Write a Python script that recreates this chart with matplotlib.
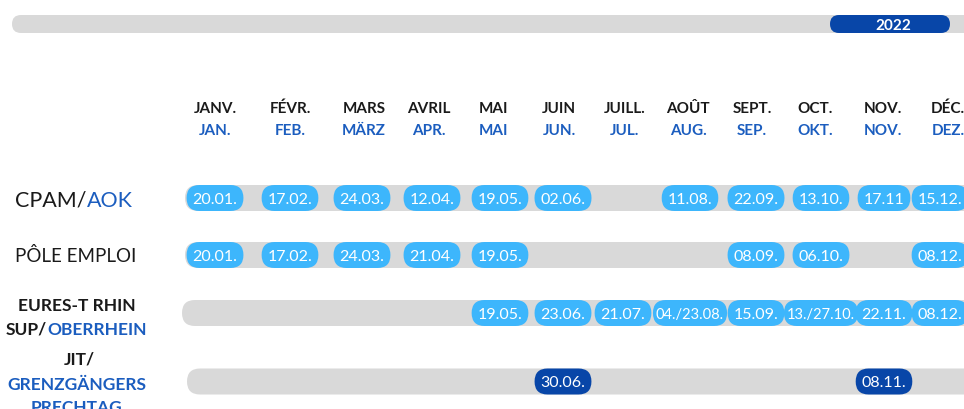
import matplotlib.pyplot as plt
from matplotlib.patches import FancyBboxPatch

plt.rcParams['font.family'] = ['Lato', 'DejaVu Sans']

# data
year = '2022'
months_fr = ['JANV.', 'FÉVR.', 'MARS', 'AVRIL', 'MAI', 'JUIN', 'JUILL.',
             'AOÛT', 'SEPT.', 'OCT.', 'NOV.', 'DÉC.']
months_de = ['JAN.', 'FEB.', 'MÄRZ', 'APR.', 'MAI', 'JUN.', 'JUL.',
             'AUG.', 'SEP.', 'OKT.', 'NOV.', 'DEZ.']

cpam_months = [0, 1, 2, 3, 4, 5, 7, 8, 9, 10, 11]
cpam_dates = ['20.01.', '17.02.', '24.03.', '12.04.', '19.05.', '02.06.',
              '11.08.', '22.09.', '13.10.', '17.11', '15.12.']
pole_months = [0, 1, 2, 3, 4, 8, 9, 11]
pole_dates = ['20.01.', '17.02.', '24.03.', '21.04.', '19.05.', '08.09.',
              '06.10.', '08.12.']
eures_months = [4, 5, 6, 7, 8, 9, 10, 11]
eures_dates = ['19.05.', '23.06.', '21.07.', '04./23.08.', '15.09.',
               '13./27.10.', '22.11.', '08.12.']
jit_months = [5, 10]
jit_dates = ['30.06.', '08.11.']

# layout (pixel coordinates of a 964x410 canvas)
W, H = 964, 410
head_x = [215, 290, 364, 429, 493, 559, 625, 688, 752, 815, 883, 948]
pill_x = [215, 290, 362, 432, 500, 563, 623, 690, 756, 821, 884, 940]

BLACK = '#1a1a1a'
BLUE = '#1b5dbf'
GREY = '#d9d9d9'
LIGHT = '#3db6fc'
DARK = '#0846a8'

fig = plt.figure(figsize=(W / 100, H / 100), dpi=100)
ax = fig.add_axes([0, 0, 1, 1])
ax.set_xlim(0, W)
ax.set_ylim(H, 0)
ax.axis('off')
renderer = fig.canvas.get_renderer()


def rbox(x0, y0, w, h, color, z=1):
    ax.add_patch(FancyBboxPatch((x0, y0), w, h,
                                boxstyle=f'round,pad=0,rounding_size={h / 2}',
                                fc=color, ec='none', zorder=z))


def pill(xc, yc, label, color, h=26):
    # long double dates are squeezed a bit, like in the original
    size, pad = (11.5, 6) if len(label) <= 6 else (10.5, 3)
    t = ax.text(xc, yc + 1, label, color='white', fontsize=size,
                ha='center', va='center', zorder=4)
    w = t.get_window_extent(renderer).width + 2 * pad
    rbox(xc - w / 2, yc - h / 2, w, h, color, z=3)


# top year bar
rbox(12, 16, 980, 18, GREY)
rbox(830, 16, 120, 18, DARK, z=2)
ax.text(893, 25.5, year, color='white', fontsize=11, fontweight='bold',
        ha='center', va='center', zorder=3)

# month headers
for i in range(12):
    ax.text(head_x[i], 109, months_fr[i], color=BLACK, fontsize=11,
            fontweight='bold', ha='center', va='center')
    ax.text(head_x[i], 131, months_de[i], color=BLUE, fontsize=11,
            fontweight='bold', ha='center', va='center')

# row labels
ax.text(87, 201, 'CPAM/', color=BLACK, fontsize=15.5, ha='right', va='center')
ax.text(87, 201, 'AOK', color=BLUE, fontsize=15.5, ha='left', va='center')
ax.text(76, 256, 'PÔLE EMPLOI', color=BLACK, fontsize=13.5, ha='center', va='center')
ax.text(77, 306, 'EURES-T RHIN', color=BLACK, fontsize=12.5, fontweight='bold',
        ha='center', va='center')
ax.text(47, 330, 'SUP/', color=BLACK, fontsize=12.5, fontweight='bold',
        ha='right', va='center')
ax.text(47, 330, 'OBERRHEIN', color=BLUE, fontsize=12.5, fontweight='bold',
        ha='left', va='center')
ax.text(79, 360, 'JIT/', color=BLACK, fontsize=12.5, fontweight='bold',
        ha='center', va='center')
ax.text(77, 385, 'GRENZGÄNGERS', color=BLUE, fontsize=12.5, fontweight='bold',
        ha='center', va='center')
ax.text(77, 408, 'PRECHTAG', color=BLUE, fontsize=12.5, fontweight='bold',
        ha='center', va='center')

# rows
rows = [
    (199, 185, cpam_months, cpam_dates, LIGHT),
    (256, 185, pole_months, pole_dates, LIGHT),
    (314, 182, eures_months, eures_dates, LIGHT),
    (382.5, 187, jit_months, jit_dates, DARK),
]
for yc, x0, months, dates, color in rows:
    rbox(x0, yc - 13, 1000, 26, GREY)
    for m, d in zip(months, dates):
        pill(pill_x[m], yc, d, color)

fig.savefig('out.png', dpi=100)
